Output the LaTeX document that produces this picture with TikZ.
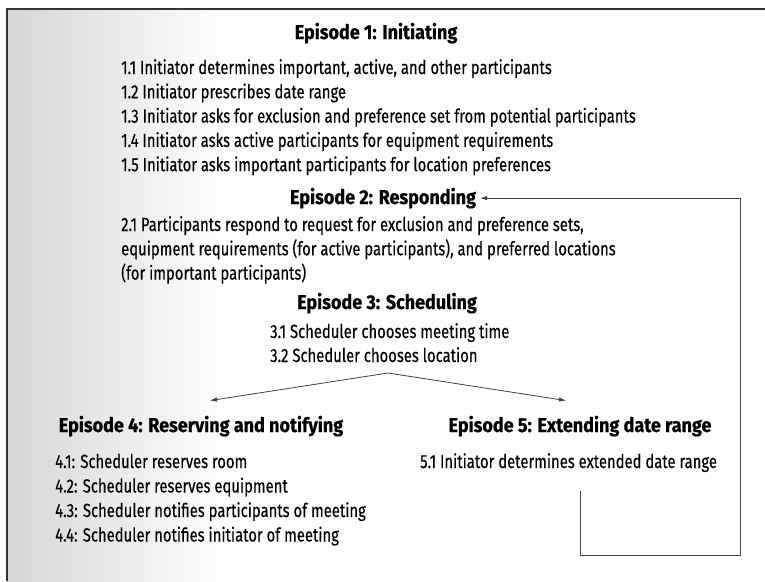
\documentclass[tikz,border=0pt]{standalone}
\usepackage{fontspec}
\setmainfont{Fira Sans}
\newfontfamily\bodyfont{Fira Sans}[FakeStretch=0.78,FakeBold=0.3]
\newfontfamily\headfont{Fira Sans}[FakeStretch=0.90,BoldFeatures={FakeBold=0.6}]
\usetikzlibrary{arrows.meta}

\tikzset{
  head/.style={font=\headfont\bfseries\fontsize{20}{24}\selectfont, inner sep=0pt, anchor=base},
  item/.style={font=\bodyfont\fontsize{19}{23}\selectfont, inner sep=0pt, anchor=base west},
  link/.style={draw=black!75, line width=0.8pt},
  arr/.style={link, -{Latex[length=7pt,width=4.5pt]}}
}

\begin{document}
\begin{tikzpicture}[x=1pt,y=-1pt]
\useasboundingbox (0,0) rectangle (765,581);

% scanned paper and frame
\shade[left color=black!16, right color=white] (7,9) rectangle (230,581);
\draw[line width=1.6pt, black!80] (765,9) -- (7,9) -- (7,581);

% episode 1
\node[head] (ep1) at (376,39) {Episode 1: Initiating};
\foreach \txt [count=\i] in {%
  {1.1 Initiator determines important, active, and other participants},
  {1.2 Initiator prescribes date range},
  {1.3 Initiator asks for exclusion and preference set from potential participants},
  {1.4 Initiator asks active participants for equipment requirements},
  {1.5 Initiator asks important participants for location preferences}}
  \node[item] (l1-\i) at (121,{74+24.3*(\i-1)}) {\txt};

% episode 2
\node[head] (ep2) at (383,204) {Episode 2: Responding};
\foreach \txt [count=\i] in {%
  {2.1 Participants respond to request for exclusion and preference sets,},
  {equipment requirements (for active participants), and preferred locations},
  {(for important participants)}}
  \node[item] (l2-\i) at (121,{231+24.3*(\i-1)}) {\txt};

% episode 3
\node[head] (ep3) at (387,309) {Episode 3: Scheduling};
\node[item] (l3-1) at (270,338) {3.1 Scheduler chooses meeting time};
\node[item] (l3-2) at (270,362) {3.2 Scheduler chooses location};

% episode 4
\node[head] (ep4) at (201,432) {Episode 4: Reserving and notifying};
\foreach \txt [count=\i] in {%
  {4.1: Scheduler reserves room},
  {4.2: Scheduler reserves equipment},
  {4.3: Scheduler notifies participants of meeting},
  {4.4: Scheduler notifies initiator of meeting}}
  \node[item] (l4-\i) at (55,{468+24.5*(\i-1)}) {\txt};

% episode 5
\node[head] (ep5) at (580,432) {Episode 5: Extending date range};
\node[item] (l5-1) at (420,468) {5.1 Initiator determines extended date range};

% branches
\coordinate (split) at (388,373);
\draw[arr] (split) -- ([xshift=9pt,yshift=15pt]ep4.north);
\draw[arr] (split) -- ([xshift=-14pt,yshift=15pt]ep5.north);

% back to responding
\coordinate (loopbl) at (580,555);
\coordinate (loopbr) at (740,555);
\draw[arr] ([yshift=-19pt]loopbl |- l5-1.south) -- (loopbl) -- (loopbr) |- ([xshift=4pt]ep2.east);
\end{tikzpicture}
\end{document}
